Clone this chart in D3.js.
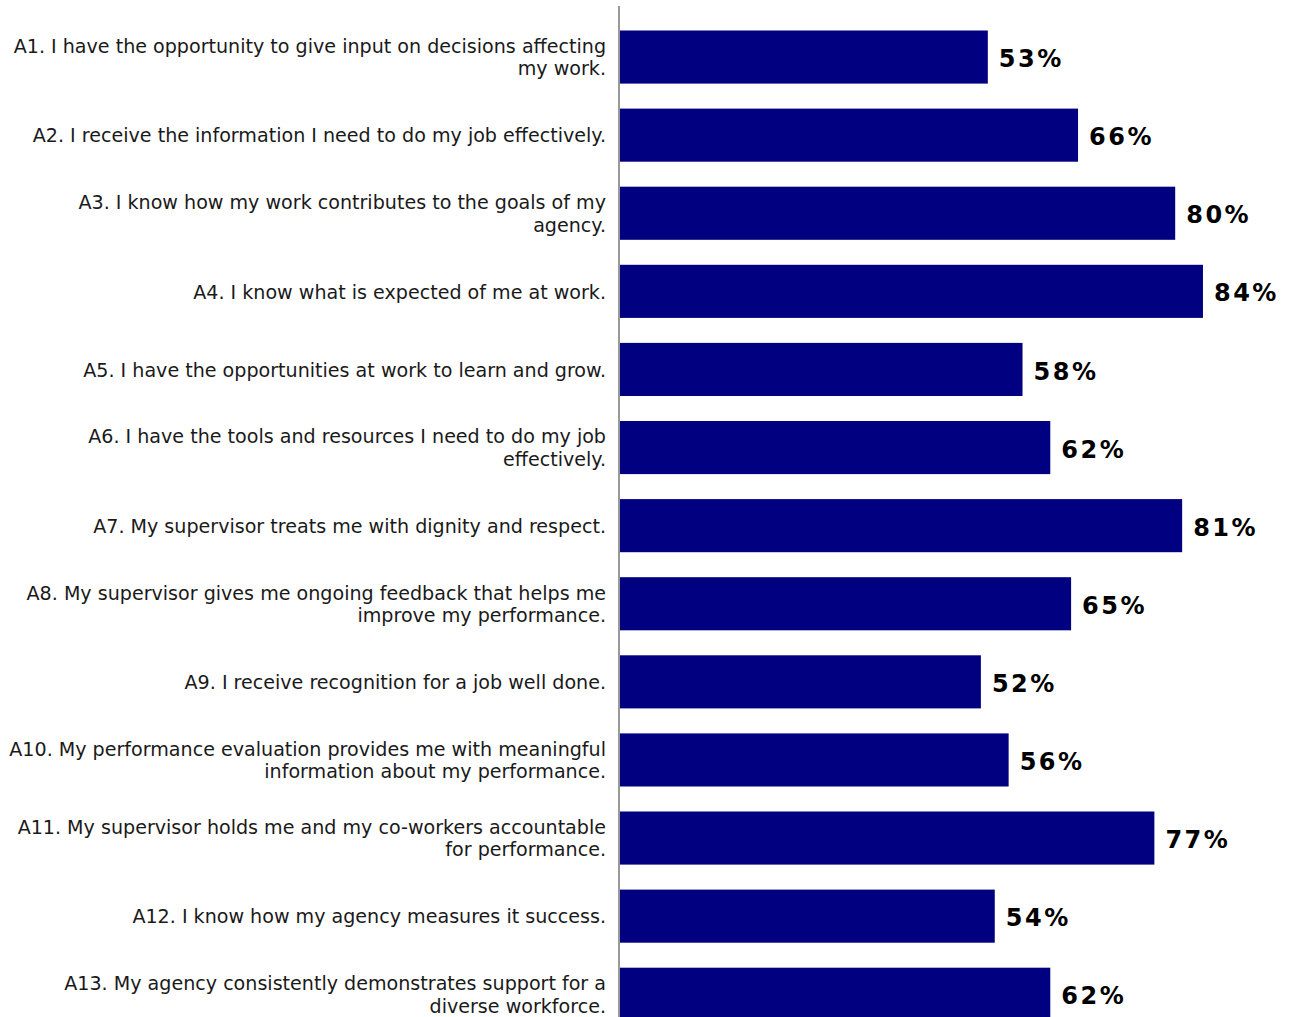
<!DOCTYPE html>
<html>
<head>
<meta charset="utf-8">
<script src="https://cdn.jsdelivr.net/npm/d3@7"></script>
<style>
  html, body { margin: 0; padding: 0; background: #fff; overflow: hidden; }
  svg { display: block; }
</style>
</head>
<body>
<svg id="chart" width="1291" height="1017"></svg>
<script>
// Survey items (line breaks follow the printed wrapping)
const items = [
  "A1. I have the opportunity to give input on decisions affecting\nmy work.",
  "A2. I receive the information I need to do my job effectively.",
  "A3. I know how my work contributes to the goals of my\nagency.",
  "A4. I know what is expected of me at work.",
  "A5. I have the opportunities at work to learn and grow.",
  "A6. I have the tools and resources I need to do my job\neffectively.",
  "A7. My supervisor treats me with dignity and respect.",
  "A8. My supervisor gives me ongoing feedback that helps me\nimprove my performance.",
  "A9. I receive recognition for a job well done.",
  "A10. My performance evaluation provides me with meaningful\ninformation about my performance.",
  "A11. My supervisor holds me and my co-workers accountable\nfor performance.",
  "A12. I know how my agency measures it success.",
  "A13. My agency consistently demonstrates support for a\ndiverse workforce."
];
// Percent agreeing
const agreePct = [53, 66, 80, 84, 58, 62, 81, 65, 52, 56, 77, 54, 62];

const svg = d3.select("#chart");
const axisX = 620;

const x = d3.scaleLinear().domain([0, 100]).range([axisX, axisX + 694]);
const y = d3.scaleBand().domain(items).range([18, 18 + 13 * 78.1]).paddingInner(0.32).paddingOuter(0.16);

const rows = items.map((q, i) => ({ q, v: agreePct[i] }));

// bars
svg.append("g").selectAll("rect").data(rows).join("rect")
  .attr("x", x(0))
  .attr("y", d => y(d.q))
  .attr("width", d => x(d.v) - x(0))
  .attr("height", y.bandwidth())
  .attr("fill", "#000080");

// vertical category axis line
svg.append("line")
  .attr("x1", axisX - 1).attr("x2", axisX - 1)
  .attr("y1", 6).attr("y2", 1017)
  .attr("stroke", "#999").attr("stroke-width", 2);

// category labels, right-aligned against the axis
const lab = svg.append("g").selectAll("text").data(rows).join("text")
  .attr("x", axisX - 14)
  .attr("text-anchor", "end")
  .attr("font-family", "'DejaVu Sans', Verdana, sans-serif")
  .attr("font-size", 19.1)
  .attr("fill", "#1a1a1a");
lab.each(function(d) {
  const lines = d.q.split("\n");
  const cy = y(d.q) + y.bandwidth() / 2 + 0.5;
  const lh = 22.5;
  const t = d3.select(this);
  lines.forEach((ln, k) => {
    t.append("tspan")
      .attr("x", axisX - 14)
      .attr("y", cy + (k - (lines.length - 1) / 2) * lh)
      .attr("dy", "0.35em")
      .text(ln);
  });
});

// value labels
svg.append("g").selectAll("text").data(rows).join("text")
  .attr("x", d => x(d.v) + 11)
  .attr("y", d => y(d.q) + y.bandwidth() / 2 + 1.5)
  .attr("dy", "0.36em")
  .attr("font-family", "'DejaVu Sans', Verdana, sans-serif")
  .attr("font-weight", "bold")
  .attr("font-size", 24)
  .attr("letter-spacing", 2.5)
  .attr("fill", "#000")
  .text(d => d.v + "%");
</script>
</body>
</html>
